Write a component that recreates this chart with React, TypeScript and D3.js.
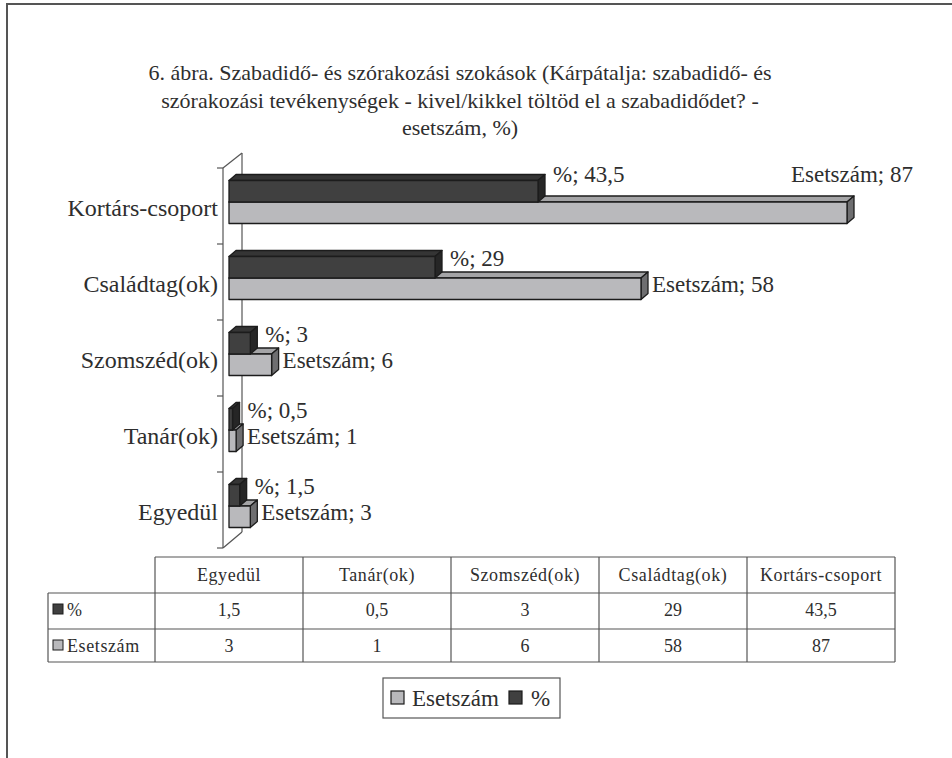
import React from "react";
import * as d3 from "d3";

const categories = ["Kortárs-csoport", "Családtag(ok)", "Szomszéd(ok)", "Tanár(ok)", "Egyedül"];
const pctValues = [43.5, 29, 3, 0.5, 1.5];
const countValues = [87, 58, 6, 1, 3];
const pctLabels = ["43,5", "29", "3", "0,5", "1,5"];
const countLabels = ["87", "58", "6", "1", "3"];
const seriesNames = ["%", "Esetszám"];
const titleLines = [
  "6. ábra. Szabadidő- és szórakozási szokások (Kárpátalja: szabadidő- és",
  "szórakozási tevékenységek - kivel/kikkel töltöd el a szabadidődet? -",
  "esetszám, %)",
];

const FONT = "Liberation Serif, Tinos, Times New Roman, DejaVu Serif, serif";
const TEXT = "#2e2e2e";
const DARK = { front: "#404040", top: "#353535", side: "#262626" };
const LIGHT = { front: "#b9b9bc", top: "#a4a4a6", side: "#6e6e70" };
const DX = 7;
const DY = 6;

function Bar3D({ x0, x1, y, h, c }: { x0: number; x1: number; y: number; h: number; c: any }) {
  const w = Math.max(x1 - x0, 0);
  const top = `M${x0},${y} L${x0 + DX},${y - DY} L${x1 + DX},${y - DY} L${x1},${y} Z`;
  const side = `M${x1},${y} L${x1 + DX},${y - DY} L${x1 + DX},${y + h - DY} L${x1},${y + h} Z`;
  return (
    <g stroke="#1c1c1c" strokeWidth={1.3} strokeLinejoin="round">
      <path d={top} fill={c.top} />
      <path d={side} fill={c.side} />
      <rect x={x0} y={y} width={w} height={h} fill={c.front} />
    </g>
  );
}

export default function App() {
  const W = 952;
  const H = 758;
  const x = d3.scaleLinear().domain([0, 87]).range([229, 847]);
  const y = d3.scaleBand().domain(categories).range([168, 548]).padding(0);
  const barH = 21.5;
  const plotRight = 935;
  const LBL = 23;

  const tableCats = [...categories].reverse();
  const colX = d3.scaleBand().domain(tableCats).range([155, 895]);
  const tableRows = [
    { name: seriesNames[0], vals: [...pctLabels].reverse(), c: DARK },
    { name: seriesNames[1], vals: [...countLabels].reverse(), c: LIGHT },
  ];
  const rowY = [593, 629, 662];

  return (
    <svg width={W} height={H} style={{ display: "block", position: "absolute", left: 0, top: 0, fontFamily: FONT }}>
      <rect x={0} y={0} width={W} height={H} fill="#fff" />
      <rect x={7} y={4} width={1200} height={1200} fill="none" stroke="#555" strokeWidth={2} />

      {titleLines.map((t, i) => (
        <text key={i} x={460} y={80 + i * 27.5} textAnchor="middle" fontSize={22} fill={TEXT}>
          {t}
        </text>
      ))}

      {/* axis walls */}
      <g stroke="#555" strokeWidth={1.2} fill="none">
        <line x1={223} y1={168} x2={223} y2={548} />
        <line x1={242} y1={153} x2={242} y2={532} />
        <line x1={223} y1={168} x2={242} y2={153} />
        <line x1={223} y1={548} x2={242} y2={532} />
        {categories.map((c) => (
          <line key={c} x1={217} x2={223} y1={y(c)!} y2={y(c)!} />
        ))}
        <line x1={217} x2={223} y1={548} y2={548} />
      </g>

      {categories.map((c) => (
        <text key={c} x={218} y={y(c)! + y.bandwidth() / 2 + 10} textAnchor="end" fontSize={24} fill={TEXT}>
          {c}
        </text>
      ))}

      {categories.map((c, i) => {
        const cy = y(c)! + y.bandwidth() / 2 - 4;
        const yDark = cy - barH;
        const yLight = cy;
        const xd = x(pctValues[i]);
        const xl = x(countValues[i]);
        const countText = `${seriesNames[1]}; ${countLabels[i]}`;
        const estW = countText.length * 10.5;
        const overflow = xl + DX + 6 + estW > plotRight;
        const pctY = overflow ? yDark + 1 : yDark + barH / 2 - 1;
        return (
          <g key={c}>
            <Bar3D x0={x(0)} x1={xl} y={yLight} h={barH} c={LIGHT} />
            <Bar3D x0={x(0)} x1={xd} y={yDark} h={barH} c={DARK} />
            <text x={xd + DX + 8} y={pctY} fontSize={LBL} fill={TEXT}>
              {`${seriesNames[0]}; ${pctLabels[i]}`}
            </text>
            {overflow ? (
              <text x={xl + 5} y={yDark + 1} textAnchor="middle" fontSize={LBL} fill={TEXT}>
                {countText}
              </text>
            ) : (
              <text x={xl + DX + 4} y={yLight + barH / 2 + 3} fontSize={LBL} fill={TEXT}>
                {countText}
              </text>
            )}
          </g>
        );
      })}

      {/* data table */}
      <g stroke="#555" strokeWidth={1.2} fill="none">
        <line x1={155} x2={895} y1={557} y2={557} />
        {rowY.map((ry) => (
          <line key={ry} x1={48} x2={895} y1={ry} y2={ry} />
        ))}
        <line x1={48} x2={48} y1={593} y2={662} />
        {tableCats.map((c) => (
          <line key={c} x1={colX(c)!} x2={colX(c)!} y1={557} y2={662} />
        ))}
        <line x1={895} x2={895} y1={557} y2={662} />
      </g>
      {tableCats.map((c) => (
        <text key={c} x={colX(c)! + colX.bandwidth() / 2} y={581} textAnchor="middle" fontSize={18} letterSpacing={0.6} fill={TEXT}>
          {c}
        </text>
      ))}
      {tableRows.map((r, ri) => (
        <g key={r.name}>
          <rect x={53} y={rowY[ri] + 11} width={10} height={10} fill={r.c.front} stroke="#1c1c1c" strokeWidth={1} />
          <text x={67} y={rowY[ri] + 23} fontSize={18} letterSpacing={0.6} fill={TEXT}>
            {r.name}
          </text>
          {r.vals.map((v, ci) => (
            <text key={ci} x={colX(tableCats[ci])! + colX.bandwidth() / 2} y={rowY[ri] + 23} textAnchor="middle" fontSize={18} fill={TEXT}>
              {v}
            </text>
          ))}
        </g>
      ))}

      {/* legend */}
      <rect x={383} y={678} width={177} height={40} fill="#fff" stroke="#555" strokeWidth={1.2} />
      <rect x={391} y={691} width={13} height={13} fill={LIGHT.front} stroke="#1c1c1c" strokeWidth={1.2} />
      <text x={412} y={706} fontSize={23} fill={TEXT}>{seriesNames[1]}</text>
      <rect x={509} y={691} width={13} height={13} fill={DARK.front} stroke="#1c1c1c" strokeWidth={1.2} />
      <text x={531} y={706} fontSize={23} fill={TEXT}>{seriesNames[0]}</text>
    </svg>
  );
}
